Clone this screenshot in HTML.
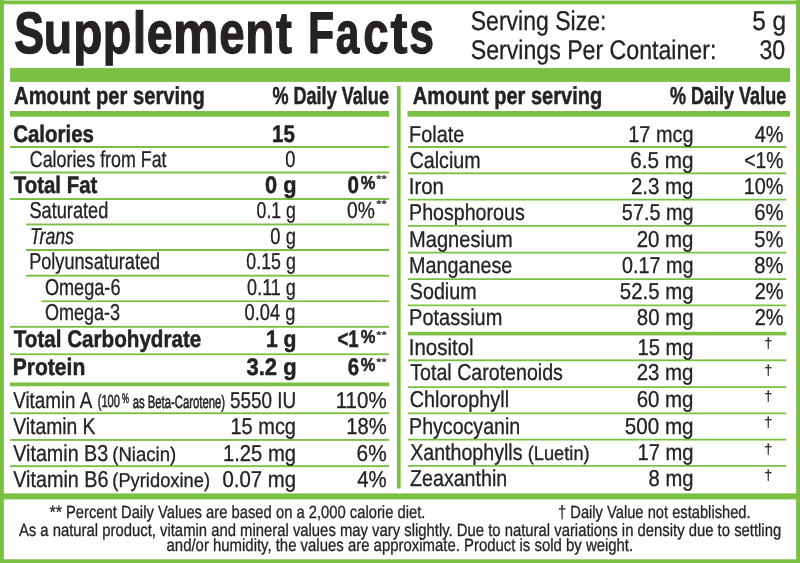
<!DOCTYPE html>
<html><head><meta charset="utf-8"><style>
html,body{margin:0;padding:0;background:#fff;width:800px;height:563px;overflow:hidden}
svg{display:block;will-change:transform}
text{font-family:"Liberation Sans",Arial,sans-serif;fill:#262223;text-rendering:geometricPrecision}
</style></head><body>
<svg width="800" height="563" viewBox="0 0 800 563">
<rect width="800" height="563" fill="#fff"/>
<g fill="#7AC143">
<rect x="0" y="0.5" width="800.00" height="3.80"/>
<rect x="0" y="0" width="3.90" height="563.00"/>
<rect x="796.1" y="0" width="3.90" height="563.00"/>
<rect x="0" y="559.3" width="800.00" height="3.70"/>
<rect x="10.1" y="68.1" width="779.90" height="13.80"/>
<rect x="10" y="111" width="379.00" height="5.75"/>
<rect x="407.5" y="111" width="382.50" height="5.75"/>
<rect x="10" y="146" width="379.00" height="2.00"/>
<rect x="10" y="171.5" width="379.00" height="2.00"/>
<rect x="10" y="198.1" width="379.00" height="1.90"/>
<rect x="26" y="223.5" width="363.00" height="1.90"/>
<rect x="26" y="249" width="363.00" height="2.00"/>
<rect x="26" y="274.75" width="363.00" height="1.85"/>
<rect x="41.5" y="300.4" width="347.50" height="1.70"/>
<rect x="10" y="325.9" width="379.00" height="1.85"/>
<rect x="10" y="353.4" width="379.00" height="1.70"/>
<rect x="10" y="382.5" width="379.00" height="3.75"/>
<rect x="10" y="412.3" width="379.00" height="1.90"/>
<rect x="10" y="439" width="379.00" height="1.90"/>
<rect x="10" y="465.2" width="379.00" height="1.90"/>
<rect x="407.8" y="146" width="378.40" height="2.00"/>
<rect x="407.8" y="172.4" width="378.40" height="1.90"/>
<rect x="407.8" y="198.75" width="378.40" height="1.75"/>
<rect x="407.8" y="225" width="378.40" height="1.75"/>
<rect x="407.8" y="251.75" width="378.40" height="1.75"/>
<rect x="407.8" y="278.25" width="378.40" height="1.75"/>
<rect x="407.8" y="304.5" width="378.40" height="1.75"/>
<rect x="407.8" y="331.8" width="378.40" height="3.60"/>
<rect x="407.8" y="359.4" width="378.40" height="1.85"/>
<rect x="407.8" y="386.25" width="378.40" height="1.75"/>
<rect x="407.8" y="412.5" width="378.40" height="1.75"/>
<rect x="407.8" y="438.75" width="378.40" height="1.75"/>
<rect x="407.8" y="465" width="378.40" height="1.75"/>
<rect x="396.9" y="86" width="3.70" height="402.50"/>
<rect x="0" y="493.4" width="800.00" height="6.00"/>
</g>
<g>
<text y="53.10" font-size="58.72" font-weight="bold" stroke="#262223" stroke-width="1.2" stroke-linejoin="round"><tspan x="14.20" textLength="29.85" lengthAdjust="spacingAndGlyphs">S</tspan><tspan x="43.81" textLength="28.42" lengthAdjust="spacingAndGlyphs">u</tspan><tspan x="73.24" textLength="29.10" lengthAdjust="spacingAndGlyphs">p</tspan><tspan x="102.80" textLength="28.51" lengthAdjust="spacingAndGlyphs">p</tspan><tspan x="132.68" textLength="13.52" lengthAdjust="spacingAndGlyphs">l</tspan><tspan x="146.70" textLength="25.92" lengthAdjust="spacingAndGlyphs">e</tspan><tspan x="173.04" textLength="45.38" lengthAdjust="spacingAndGlyphs">m</tspan><tspan x="219.23" textLength="25.36" lengthAdjust="spacingAndGlyphs">e</tspan><tspan x="245.25" textLength="29.05" lengthAdjust="spacingAndGlyphs">n</tspan><tspan x="276.12" textLength="15.92" lengthAdjust="spacingAndGlyphs">t</tspan><tspan x="296.11" textLength="38.11" lengthAdjust="spacingAndGlyphs"> F</tspan><tspan x="335.75" textLength="23.56" lengthAdjust="spacingAndGlyphs">a</tspan><tspan x="363.23" textLength="25.36" lengthAdjust="spacingAndGlyphs">c</tspan><tspan x="390.59" textLength="16.96" lengthAdjust="spacingAndGlyphs">t</tspan><tspan x="409.27" textLength="24.74" lengthAdjust="spacingAndGlyphs">s</tspan></text>
<text x="470.73" textLength="135.64" lengthAdjust="spacingAndGlyphs" y="30.05" font-size="27.18" stroke="#262223" stroke-width="0.3" stroke-linejoin="round">Serving Size:</text>
<text x="752.17" textLength="34.06" lengthAdjust="spacingAndGlyphs" y="30.05" font-size="27.18" stroke="#262223" stroke-width="0.3" stroke-linejoin="round">5 g</text>
<text x="470.72" textLength="245.66" lengthAdjust="spacingAndGlyphs" y="58.95" font-size="26.89" stroke="#262223" stroke-width="0.3" stroke-linejoin="round">Servings Per Container:</text>
<text x="759.46" textLength="25.73" lengthAdjust="spacingAndGlyphs" y="58.95" font-size="26.89" stroke="#262223" stroke-width="0.3" stroke-linejoin="round">30</text>
<text x="14.10" textLength="190.63" lengthAdjust="spacingAndGlyphs" y="104.35" font-size="24.56" font-weight="bold" stroke="#262223" stroke-width="0.5" stroke-linejoin="round">Amount per serving</text>
<text x="272.39" textLength="116.58" lengthAdjust="spacingAndGlyphs" y="104.35" font-size="24.56" font-weight="bold" stroke="#262223" stroke-width="0.5" stroke-linejoin="round">% Daily Value</text>
<text x="412.85" textLength="189.37" lengthAdjust="spacingAndGlyphs" y="104.35" font-size="24.56" font-weight="bold" stroke="#262223" stroke-width="0.5" stroke-linejoin="round">Amount per serving</text>
<text x="669.89" textLength="116.33" lengthAdjust="spacingAndGlyphs" y="104.35" font-size="24.56" font-weight="bold" stroke="#262223" stroke-width="0.5" stroke-linejoin="round">% Daily Value</text>
<text x="13.18" textLength="80.81" lengthAdjust="spacingAndGlyphs" y="141.75" font-size="23.84" font-weight="bold" stroke="#262223" stroke-width="0.5" stroke-linejoin="round">Calories</text>
<text x="272.02" textLength="22.76" lengthAdjust="spacingAndGlyphs" y="141.75" font-size="23.84" font-weight="bold" stroke="#262223" stroke-width="0.5" stroke-linejoin="round">15</text>
<text x="29.76" textLength="136.80" lengthAdjust="spacingAndGlyphs" y="167.00" font-size="22.97" stroke="#262223" stroke-width="0.3" stroke-linejoin="round">Calories from Fat</text>
<text x="285.35" textLength="10.16" lengthAdjust="spacingAndGlyphs" y="167.00" font-size="22.97" stroke="#262223" stroke-width="0.3" stroke-linejoin="round">0</text>
<text x="13.80" textLength="83.52" lengthAdjust="spacingAndGlyphs" y="192.95" font-size="23.84" font-weight="bold" stroke="#262223" stroke-width="0.5" stroke-linejoin="round">Total Fat</text>
<text x="265.10" textLength="31.48" lengthAdjust="spacingAndGlyphs" y="192.95" font-size="23.84" font-weight="bold" stroke="#262223" stroke-width="0.5" stroke-linejoin="round">0 g</text>
<text x="347.53" textLength="11.46" lengthAdjust="spacingAndGlyphs" y="192.95" font-size="23.84" font-weight="bold" stroke="#262223" stroke-width="0.5" stroke-linejoin="round">0</text>
<text x="29.42" textLength="78.95" lengthAdjust="spacingAndGlyphs" y="218.10" font-size="22.97" stroke="#262223" stroke-width="0.3" stroke-linejoin="round">Saturated</text>
<text x="256.62" textLength="39.22" lengthAdjust="spacingAndGlyphs" y="218.10" font-size="22.97" stroke="#262223" stroke-width="0.3" stroke-linejoin="round">0.1 g</text>
<text x="347.07" textLength="27.84" lengthAdjust="spacingAndGlyphs" y="218.10" font-size="22.97" stroke="#262223" stroke-width="0.3" stroke-linejoin="round">0%</text>
<text x="29.98" textLength="43.97" lengthAdjust="spacingAndGlyphs" y="243.55" font-size="22.97" font-style="italic" stroke="#262223" stroke-width="0.3" stroke-linejoin="round">Trans</text>
<text x="270.35" textLength="25.53" lengthAdjust="spacingAndGlyphs" y="243.55" font-size="22.97" stroke="#262223" stroke-width="0.3" stroke-linejoin="round">0 g</text>
<text x="29.20" textLength="130.92" lengthAdjust="spacingAndGlyphs" y="269.20" font-size="22.97" stroke="#262223" stroke-width="0.3" stroke-linejoin="round">Polyunsaturated</text>
<text x="246.37" textLength="49.48" lengthAdjust="spacingAndGlyphs" y="269.20" font-size="22.97" stroke="#262223" stroke-width="0.3" stroke-linejoin="round">0.15 g</text>
<text x="44.92" textLength="75.58" lengthAdjust="spacingAndGlyphs" y="295.45" font-size="22.97" stroke="#262223" stroke-width="0.3" stroke-linejoin="round">Omega-6</text>
<text x="247.11" textLength="48.75" lengthAdjust="spacingAndGlyphs" y="295.45" font-size="22.97" stroke="#262223" stroke-width="0.3" stroke-linejoin="round">0.11 g</text>
<text x="44.93" textLength="75.07" lengthAdjust="spacingAndGlyphs" y="320.45" font-size="22.97" stroke="#262223" stroke-width="0.3" stroke-linejoin="round">Omega-3</text>
<text x="244.60" textLength="50.77" lengthAdjust="spacingAndGlyphs" y="320.45" font-size="22.97" stroke="#262223" stroke-width="0.3" stroke-linejoin="round">0.04 g</text>
<text x="13.79" textLength="187.50" lengthAdjust="spacingAndGlyphs" y="346.75" font-size="23.84" font-weight="bold" stroke="#262223" stroke-width="0.5" stroke-linejoin="round">Total Carbohydrate</text>
<text x="265.98" textLength="30.56" lengthAdjust="spacingAndGlyphs" y="346.75" font-size="23.84" font-weight="bold" stroke="#262223" stroke-width="0.5" stroke-linejoin="round">1 g</text>
<text x="337.51" textLength="21.23" lengthAdjust="spacingAndGlyphs" y="346.75" font-size="23.84" font-weight="bold" stroke="#262223" stroke-width="0.5" stroke-linejoin="round">&lt;1</text>
<text x="12.74" textLength="72.54" lengthAdjust="spacingAndGlyphs" y="375.05" font-size="23.84" font-weight="bold" stroke="#262223" stroke-width="0.5" stroke-linejoin="round">Protein</text>
<text x="246.56" textLength="50.02" lengthAdjust="spacingAndGlyphs" y="375.05" font-size="23.84" font-weight="bold" stroke="#262223" stroke-width="0.5" stroke-linejoin="round">3.2 g</text>
<text x="347.64" textLength="11.35" lengthAdjust="spacingAndGlyphs" y="375.05" font-size="23.84" font-weight="bold" stroke="#262223" stroke-width="0.5" stroke-linejoin="round">6</text>
<text x="13.25" textLength="79.04" lengthAdjust="spacingAndGlyphs" y="407.80" font-size="22.97" stroke="#262223" stroke-width="0.3" stroke-linejoin="round">Vitamin A</text>
<text x="229.89" textLength="66.32" lengthAdjust="spacingAndGlyphs" y="407.80" font-size="22.97" stroke="#262223" stroke-width="0.3" stroke-linejoin="round">5550 IU</text>
<text x="335.71" textLength="50.99" lengthAdjust="spacingAndGlyphs" y="407.80" font-size="22.97" stroke="#262223" stroke-width="0.3" stroke-linejoin="round">110%</text>
<text x="13.25" textLength="82.23" lengthAdjust="spacingAndGlyphs" y="433.85" font-size="22.97" stroke="#262223" stroke-width="0.3" stroke-linejoin="round">Vitamin K</text>
<text x="230.50" textLength="65.47" lengthAdjust="spacingAndGlyphs" y="433.85" font-size="22.97" stroke="#262223" stroke-width="0.3" stroke-linejoin="round">15 mcg</text>
<text x="346.24" textLength="40.45" lengthAdjust="spacingAndGlyphs" y="433.85" font-size="22.97" stroke="#262223" stroke-width="0.3" stroke-linejoin="round">18%</text>
<text x="13.25" textLength="94.96" lengthAdjust="spacingAndGlyphs" y="460.95" font-size="22.97" stroke="#262223" stroke-width="0.3" stroke-linejoin="round">Vitamin B3</text>
<text x="112.29" textLength="63.95" lengthAdjust="spacingAndGlyphs" y="460.95" font-size="19.91" stroke="#262223" stroke-width="0.3" stroke-linejoin="round">(Niacin)</text>
<text x="222.99" textLength="73.00" lengthAdjust="spacingAndGlyphs" y="460.95" font-size="22.97" stroke="#262223" stroke-width="0.3" stroke-linejoin="round">1.25 mg</text>
<text x="356.61" textLength="30.10" lengthAdjust="spacingAndGlyphs" y="460.95" font-size="22.97" stroke="#262223" stroke-width="0.3" stroke-linejoin="round">6%</text>
<text x="13.25" textLength="95.32" lengthAdjust="spacingAndGlyphs" y="487.05" font-size="22.97" stroke="#262223" stroke-width="0.3" stroke-linejoin="round">Vitamin B6</text>
<text x="112.30" textLength="97.72" lengthAdjust="spacingAndGlyphs" y="487.05" font-size="19.91" stroke="#262223" stroke-width="0.3" stroke-linejoin="round">(Pyridoxine)</text>
<text x="222.54" textLength="73.45" lengthAdjust="spacingAndGlyphs" y="487.05" font-size="22.97" stroke="#262223" stroke-width="0.3" stroke-linejoin="round">0.07 mg</text>
<text x="357.24" textLength="29.45" lengthAdjust="spacingAndGlyphs" y="487.05" font-size="22.97" stroke="#262223" stroke-width="0.3" stroke-linejoin="round">4%</text>
<text x="409.06" textLength="55.26" lengthAdjust="spacingAndGlyphs" y="141.75" font-size="22.97" stroke="#262223" stroke-width="0.3" stroke-linejoin="round">Folate</text>
<text x="628.26" textLength="65.21" lengthAdjust="spacingAndGlyphs" y="141.75" font-size="22.97" stroke="#262223" stroke-width="0.3" stroke-linejoin="round">17 mcg</text>
<text x="754.75" textLength="28.78" lengthAdjust="spacingAndGlyphs" y="141.75" font-size="22.97" stroke="#262223" stroke-width="0.3" stroke-linejoin="round">4%</text>
<text x="409.67" textLength="70.92" lengthAdjust="spacingAndGlyphs" y="167.85" font-size="22.97" stroke="#262223" stroke-width="0.3" stroke-linejoin="round">Calcium</text>
<text x="630.37" textLength="63.14" lengthAdjust="spacingAndGlyphs" y="167.85" font-size="22.97" stroke="#262223" stroke-width="0.3" stroke-linejoin="round">6.5 mg</text>
<text x="744.28" textLength="39.24" lengthAdjust="spacingAndGlyphs" y="167.85" font-size="22.97" stroke="#262223" stroke-width="0.3" stroke-linejoin="round">&lt;1%</text>
<text x="408.81" textLength="35.18" lengthAdjust="spacingAndGlyphs" y="194.10" font-size="22.97" stroke="#262223" stroke-width="0.3" stroke-linejoin="round">Iron</text>
<text x="630.88" textLength="62.62" lengthAdjust="spacingAndGlyphs" y="194.10" font-size="22.97" stroke="#262223" stroke-width="0.3" stroke-linejoin="round">2.3 mg</text>
<text x="743.76" textLength="39.77" lengthAdjust="spacingAndGlyphs" y="194.10" font-size="22.97" stroke="#262223" stroke-width="0.3" stroke-linejoin="round">10%</text>
<text x="409.08" textLength="115.61" lengthAdjust="spacingAndGlyphs" y="220.35" font-size="22.97" stroke="#262223" stroke-width="0.3" stroke-linejoin="round">Phosphorous</text>
<text x="621.86" textLength="71.61" lengthAdjust="spacingAndGlyphs" y="220.35" font-size="22.97" stroke="#262223" stroke-width="0.3" stroke-linejoin="round">57.5 mg</text>
<text x="754.13" textLength="29.41" lengthAdjust="spacingAndGlyphs" y="220.35" font-size="22.97" stroke="#262223" stroke-width="0.3" stroke-linejoin="round">6%</text>
<text x="409.04" textLength="103.82" lengthAdjust="spacingAndGlyphs" y="246.60" font-size="22.97" stroke="#262223" stroke-width="0.3" stroke-linejoin="round">Magnesium</text>
<text x="636.63" textLength="56.87" lengthAdjust="spacingAndGlyphs" y="246.60" font-size="22.97" stroke="#262223" stroke-width="0.3" stroke-linejoin="round">20 mg</text>
<text x="754.34" textLength="29.20" lengthAdjust="spacingAndGlyphs" y="246.60" font-size="22.97" stroke="#262223" stroke-width="0.3" stroke-linejoin="round">5%</text>
<text x="409.07" textLength="103.24" lengthAdjust="spacingAndGlyphs" y="272.85" font-size="22.97" stroke="#262223" stroke-width="0.3" stroke-linejoin="round">Manganese</text>
<text x="622.06" textLength="71.40" lengthAdjust="spacingAndGlyphs" y="272.85" font-size="22.97" stroke="#262223" stroke-width="0.3" stroke-linejoin="round">0.17 mg</text>
<text x="754.34" textLength="29.20" lengthAdjust="spacingAndGlyphs" y="272.85" font-size="22.97" stroke="#262223" stroke-width="0.3" stroke-linejoin="round">8%</text>
<text x="409.86" textLength="66.73" lengthAdjust="spacingAndGlyphs" y="299.10" font-size="22.97" stroke="#262223" stroke-width="0.3" stroke-linejoin="round">Sodium</text>
<text x="619.83" textLength="73.66" lengthAdjust="spacingAndGlyphs" y="299.10" font-size="22.97" stroke="#262223" stroke-width="0.3" stroke-linejoin="round">52.5 mg</text>
<text x="754.65" textLength="28.88" lengthAdjust="spacingAndGlyphs" y="299.10" font-size="22.97" stroke="#262223" stroke-width="0.3" stroke-linejoin="round">2%</text>
<text x="409.05" textLength="93.31" lengthAdjust="spacingAndGlyphs" y="325.35" font-size="22.97" stroke="#262223" stroke-width="0.3" stroke-linejoin="round">Potassium</text>
<text x="636.83" textLength="56.66" lengthAdjust="spacingAndGlyphs" y="325.35" font-size="22.97" stroke="#262223" stroke-width="0.3" stroke-linejoin="round">80 mg</text>
<text x="754.65" textLength="28.88" lengthAdjust="spacingAndGlyphs" y="325.35" font-size="22.97" stroke="#262223" stroke-width="0.3" stroke-linejoin="round">2%</text>
<text x="408.81" textLength="64.81" lengthAdjust="spacingAndGlyphs" y="354.80" font-size="22.97" stroke="#262223" stroke-width="0.3" stroke-linejoin="round">Inositol</text>
<text x="637.49" textLength="55.99" lengthAdjust="spacingAndGlyphs" y="354.80" font-size="22.97" stroke="#262223" stroke-width="0.3" stroke-linejoin="round">15 mg</text>
<text x="410.26" textLength="152.68" lengthAdjust="spacingAndGlyphs" y="380.25" font-size="22.97" stroke="#262223" stroke-width="0.3" stroke-linejoin="round">Total Carotenoids</text>
<text x="636.63" textLength="56.87" lengthAdjust="spacingAndGlyphs" y="380.25" font-size="22.97" stroke="#262223" stroke-width="0.3" stroke-linejoin="round">23 mg</text>
<text x="409.66" textLength="99.43" lengthAdjust="spacingAndGlyphs" y="406.85" font-size="22.97" stroke="#262223" stroke-width="0.3" stroke-linejoin="round">Chlorophyll</text>
<text x="636.63" textLength="56.87" lengthAdjust="spacingAndGlyphs" y="406.85" font-size="22.97" stroke="#262223" stroke-width="0.3" stroke-linejoin="round">60 mg</text>
<text x="409.08" textLength="111.12" lengthAdjust="spacingAndGlyphs" y="433.55" font-size="22.97" stroke="#262223" stroke-width="0.3" stroke-linejoin="round">Phycocyanin</text>
<text x="624.83" textLength="68.68" lengthAdjust="spacingAndGlyphs" y="433.55" font-size="22.97" stroke="#262223" stroke-width="0.3" stroke-linejoin="round">500 mg</text>
<text x="410.26" textLength="112.18" lengthAdjust="spacingAndGlyphs" y="459.90" font-size="22.97" stroke="#262223" stroke-width="0.3" stroke-linejoin="round">Xanthophylls</text>
<text x="637.49" textLength="55.99" lengthAdjust="spacingAndGlyphs" y="459.90" font-size="22.97" stroke="#262223" stroke-width="0.3" stroke-linejoin="round">17 mg</text>
<text x="410.06" textLength="97.14" lengthAdjust="spacingAndGlyphs" y="486.05" font-size="22.97" stroke="#262223" stroke-width="0.3" stroke-linejoin="round">Zeaxanthin</text>
<text x="648.59" textLength="44.89" lengthAdjust="spacingAndGlyphs" y="486.05" font-size="22.97" stroke="#262223" stroke-width="0.3" stroke-linejoin="round">8 mg</text>
<text x="527.70" textLength="61.97" lengthAdjust="spacingAndGlyphs" y="459.90" font-size="19.91" stroke="#262223" stroke-width="0.3" stroke-linejoin="round">(Luetin)</text>
<text y="517.75" font-size="17.73" stroke="#262223" stroke-width="0.3" stroke-linejoin="round"><tspan x="49.49" textLength="12.51" lengthAdjust="spacingAndGlyphs">**</tspan><tspan x="61.86" textLength="363.53" lengthAdjust="spacingAndGlyphs"> Percent Daily Values are based on a 2,000 calorie diet.</tspan></text>
<text x="558.02" textLength="192.62" lengthAdjust="spacingAndGlyphs" y="517.75" font-size="17.73" stroke="#262223" stroke-width="0.3" stroke-linejoin="round">† Daily Value not established.</text>
<text x="18.90" textLength="762.28" lengthAdjust="spacingAndGlyphs" y="535.65" font-size="17.73" stroke="#262223" stroke-width="0.3" stroke-linejoin="round">As a natural product, vitamin and mineral values may vary slightly. Due to natural variations in density due to settling</text>
<text x="166.55" textLength="466.61" lengthAdjust="spacingAndGlyphs" y="551.05" font-size="17.73" stroke="#262223" stroke-width="0.3" stroke-linejoin="round">and/or humidity, the values are approximate. Product is sold by weight.</text>
<text x="360.82" textLength="14.64" lengthAdjust="spacingAndGlyphs" y="188.86" font-size="18.73" font-weight="bold" stroke="#262223" stroke-width="0.5" stroke-linejoin="round">%</text>
<text x="360.82" textLength="14.64" lengthAdjust="spacingAndGlyphs" y="342.66" font-size="18.73" font-weight="bold" stroke="#262223" stroke-width="0.5" stroke-linejoin="round">%</text>
<text x="360.82" textLength="14.64" lengthAdjust="spacingAndGlyphs" y="370.96" font-size="18.73" font-weight="bold" stroke="#262223" stroke-width="0.5" stroke-linejoin="round">%</text>
<text x="376.32" textLength="10.35" lengthAdjust="spacingAndGlyphs" y="182.47" font-size="9.44" stroke="#262223" stroke-width="0.3" stroke-linejoin="round">**</text>
<text x="376.32" textLength="10.35" lengthAdjust="spacingAndGlyphs" y="206.97" font-size="9.44" stroke="#262223" stroke-width="0.3" stroke-linejoin="round">**</text>
<text x="376.32" textLength="10.35" lengthAdjust="spacingAndGlyphs" y="337.67" font-size="9.44" stroke="#262223" stroke-width="0.3" stroke-linejoin="round">**</text>
<text x="376.32" textLength="10.35" lengthAdjust="spacingAndGlyphs" y="365.47" font-size="9.44" stroke="#262223" stroke-width="0.3" stroke-linejoin="round">**</text>
<text x="764.20" textLength="8.08" lengthAdjust="spacingAndGlyphs" y="347.71" font-size="14.44" stroke="#262223" stroke-width="0.15" stroke-linejoin="round">†</text>
<text x="764.20" textLength="8.08" lengthAdjust="spacingAndGlyphs" y="374.61" font-size="14.44" stroke="#262223" stroke-width="0.15" stroke-linejoin="round">†</text>
<text x="764.20" textLength="8.08" lengthAdjust="spacingAndGlyphs" y="400.71" font-size="14.44" stroke="#262223" stroke-width="0.15" stroke-linejoin="round">†</text>
<text x="764.20" textLength="8.08" lengthAdjust="spacingAndGlyphs" y="426.71" font-size="14.44" stroke="#262223" stroke-width="0.15" stroke-linejoin="round">†</text>
<text x="764.20" textLength="8.08" lengthAdjust="spacingAndGlyphs" y="453.81" font-size="14.44" stroke="#262223" stroke-width="0.15" stroke-linejoin="round">†</text>
<text x="764.20" textLength="8.08" lengthAdjust="spacingAndGlyphs" y="479.71" font-size="14.44" stroke="#262223" stroke-width="0.15" stroke-linejoin="round">†</text>
<text x="97.74" textLength="22.16" lengthAdjust="spacingAndGlyphs" y="407.11" font-size="17.55" stroke="#262223" stroke-width="0.6" stroke-linejoin="round">(100</text>
<text x="122.04" textLength="6.91" lengthAdjust="spacingAndGlyphs" y="403.38" font-size="14.01" stroke="#262223" stroke-width="0.55" stroke-linejoin="round">%</text>
<text x="132.65" textLength="92.40" lengthAdjust="spacingAndGlyphs" y="407.50" font-size="17.88" stroke="#262223" stroke-width="0.6" stroke-linejoin="round">as Beta-Carotene)</text>

</g>
</svg>
</body></html>
